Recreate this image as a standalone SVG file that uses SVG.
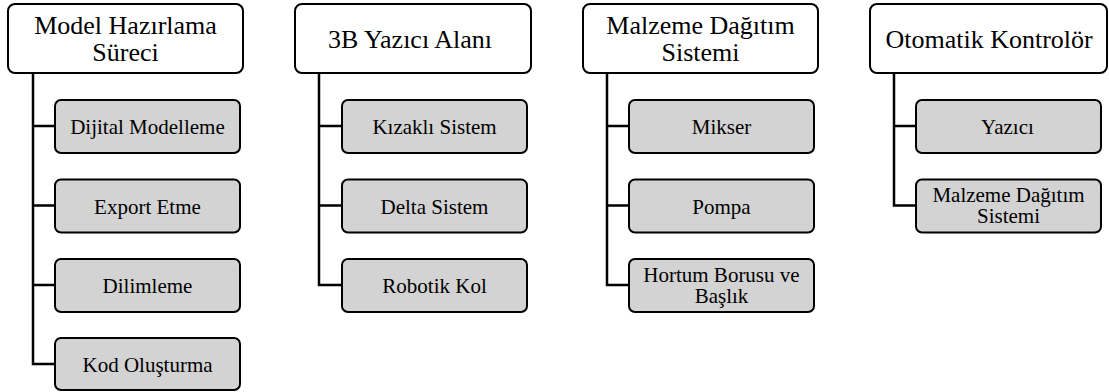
<svg xmlns="http://www.w3.org/2000/svg" width="1109" height="392" viewBox="0 0 1109 392">
  <style>
    .head rect { fill: #ffffff; stroke: #000000; stroke-width: 2; }
    .item rect { fill: #d3d3d3; stroke: #000000; stroke-width: 2; }
    #connectors path { fill: none; stroke: #000000; stroke-width: 2.5; }
  </style>
  <rect width="1109" height="392" fill="#ffffff"/>

  <!-- tree connectors: one trunk per column with a tee to each child -->
  <g id="connectors">
    <path d="M33 73 V364 H55 M33 126 H55 M33 205.5 H55 M33 285 H55"/>
    <path d="M319 73 V285 H342 M319 126 H342 M319 205.5 H342"/>
    <path d="M607 73 V285 H629 M607 126 H629 M607 205.5 H629"/>
    <path d="M894 73 V205.5 H916 M894 126 H916"/>
  </g>

  <!-- column 1 -->
  <g id="model-hazirlama" class="head">
    <rect x="8" y="4" width="235" height="69" rx="7"/>
    <text x="34.2" y="33.5" font-family="Liberation Serif" font-size="26">Model Hazırlama</text>
    <text x="92.3" y="61" font-family="Liberation Serif" font-size="26">Süreci</text>
  </g>
  <g id="dijital-modelleme" class="item">
    <rect x="55" y="100" width="185" height="53" rx="6"/>
    <text x="70.2" y="134" font-family="Liberation Serif" font-size="21">Dijital Modelleme</text>
  </g>
  <g id="export-etme" class="item">
    <rect x="55" y="179.5" width="185" height="53" rx="6"/>
    <text x="94.1" y="213.5" font-family="Liberation Serif" font-size="21">Export Etme</text>
  </g>
  <g id="dilimleme" class="item">
    <rect x="55" y="259" width="185" height="53" rx="6"/>
    <text x="102.6" y="293" font-family="Liberation Serif" font-size="21">Dilimleme</text>
  </g>
  <g id="kod-olusturma" class="item">
    <rect x="55" y="338" width="185" height="52" rx="6"/>
    <text x="82.5" y="371.5" font-family="Liberation Serif" font-size="21">Kod Oluşturma</text>
  </g>

  <!-- column 2 -->
  <g id="yazici-alani" class="head">
    <rect x="295" y="4" width="236" height="69" rx="7"/>
    <text x="328" y="48" font-family="Liberation Serif" font-size="26">3B Yazıcı Alanı</text>
  </g>
  <g id="kizakli-sistem" class="item">
    <rect x="342" y="100" width="185" height="53" rx="6"/>
    <text x="372.4" y="134" font-family="Liberation Serif" font-size="21">Kızaklı Sistem</text>
  </g>
  <g id="delta-sistem" class="item">
    <rect x="342" y="179.5" width="185" height="53" rx="6"/>
    <text x="380.5" y="213.5" font-family="Liberation Serif" font-size="21">Delta Sistem</text>
  </g>
  <g id="robotik-kol" class="item">
    <rect x="342" y="259" width="185" height="53" rx="6"/>
    <text x="382.3" y="293" font-family="Liberation Serif" font-size="21">Robotik Kol</text>
  </g>

  <!-- column 3 -->
  <g id="malzeme-dagitim" class="head">
    <rect x="583" y="4" width="235" height="69" rx="7"/>
    <text x="606.3" y="33.5" font-family="Liberation Serif" font-size="26">Malzeme Dağıtım</text>
    <text x="661.5" y="61" font-family="Liberation Serif" font-size="26">Sistemi</text>
  </g>
  <g id="mikser" class="item">
    <rect x="629" y="100" width="185" height="53" rx="6"/>
    <text x="691.8" y="134" font-family="Liberation Serif" font-size="21">Mikser</text>
  </g>
  <g id="pompa" class="item">
    <rect x="629" y="179.5" width="185" height="53" rx="6"/>
    <text x="692.3" y="213.5" font-family="Liberation Serif" font-size="21">Pompa</text>
  </g>
  <g id="hortum-borusu" class="item">
    <rect x="629" y="259" width="185" height="53" rx="6"/>
    <text x="643.3" y="281.5" font-family="Liberation Serif" font-size="21">Hortum Borusu ve</text>
    <text x="694.7" y="303" font-family="Liberation Serif" font-size="21">Başlık</text>
  </g>

  <!-- column 4 -->
  <g id="otomatik-kontrolor" class="head">
    <rect x="870" y="4" width="237" height="69" rx="7"/>
    <text x="885.5" y="48" font-family="Liberation Serif" font-size="26">Otomatik Kontrolör</text>
  </g>
  <g id="yazici" class="item">
    <rect x="916" y="100" width="185" height="53" rx="6"/>
    <text x="981.1" y="134" font-family="Liberation Serif" font-size="21">Yazıcı</text>
  </g>
  <g id="malzeme-dagitim-sistemi" class="item">
    <rect x="916" y="179.5" width="185" height="53" rx="6"/>
    <text x="932.4" y="201.5" font-family="Liberation Serif" font-size="21">Malzeme Dağıtım</text>
    <text x="977" y="223" font-family="Liberation Serif" font-size="21">Sistemi</text>
  </g>
</svg>
